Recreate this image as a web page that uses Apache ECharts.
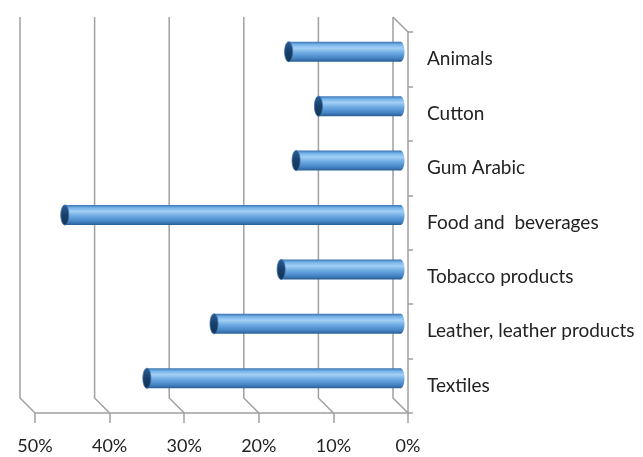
<!DOCTYPE html>
<html>
<head>
<meta charset="utf-8">
<script src="https://cdn.jsdelivr.net/npm/echarts@6/dist/echarts.min.js"></script>
<style>
html,body{margin:0;padding:0;background:#fff;}
#main{width:643px;height:457px;}
</style>
</head>
<body>
<div id="main"></div>
<script>
const categories = ['Animals', 'Cutton', 'Gum Arabic', 'Food and  beverages', 'Tobacco products', 'Leather, leather products', 'Textiles'];
const values = [15, 11, 14, 45, 16, 25, 34];
const xTicks = [0, 10, 20, 30, 40, 50];

const FONT = 'Lato';
const GRID_COLOR = '#a0a0a0';
const DEPTH = 15;

const chart = echarts.init(document.getElementById('main'), null, {renderer: 'canvas'});

const bodyGrad = () => new echarts.graphic.LinearGradient(0, 0, 0, 1, [
  {offset: 0, color: '#3b74b0'},
  {offset: 0.14, color: '#74b2ea'},
  {offset: 0.32, color: '#a3d0f5'},
  {offset: 0.55, color: '#6eaae3'},
  {offset: 0.82, color: '#4585c6'},
  {offset: 1, color: '#2a5d93'}
]);
const capGrad = () => new echarts.graphic.LinearGradient(0, 0, 0, 1, [
  {offset: 0, color: '#2b5f95'},
  {offset: 0.5, color: '#173f6a'},
  {offset: 1, color: '#143559'}
]);

const option = {
  animation: false,
  backgroundColor: '#fff',
  grid: {left: 35, right: 235, top: 32, bottom: 44, containLabel: false},
  xAxis: {
    type: 'value',
    inverse: true,
    min: 0,
    max: 50,
    interval: 10,
    axisLine: {show: true, lineStyle: {color: GRID_COLOR, width: 1.5}},
    axisTick: {show: true, length: 10, lineStyle: {color: GRID_COLOR, width: 1.5}},
    splitLine: {show: false},
    axisLabel: {
      formatter: '{value}%',
      fontFamily: FONT,
      fontSize: 18,
      color: '#222',
      margin: 24
    }
  },
  yAxis: {
    type: 'category',
    data: categories,
    inverse: true,
    position: 'right',
    axisLine: {show: true, lineStyle: {color: GRID_COLOR, width: 1.5}},
    axisTick: {show: true, length: 5, lineStyle: {color: GRID_COLOR, width: 1.5}},
    splitLine: {show: false},
    axisLabel: {
      fontFamily: FONT,
      fontSize: 19,
      color: '#222',
      margin: 19
    }
  },
  series: [
    {
      type: 'custom',
      name: 'frame',
      z: 1,
      silent: true,
      data: xTicks.map(v => [v, 0]),
      encode: {x: 0, y: 1},
      renderItem: function (params, api) {
        const v = api.value(0);
        const x = api.coord([v, 0])[0];
        const cs = params.coordSys;
        const top = cs.y, bottom = cs.y + cs.height;
        const children = [{
          type: 'polyline',
          shape: {points: [[x - DEPTH, top - DEPTH], [x - DEPTH, bottom - DEPTH], [x, bottom]]},
          style: {stroke: GRID_COLOR, lineWidth: 1.5, fill: null}
        }];
        if (v === 0) {
          children.push({
            type: 'line',
            shape: {x1: x - DEPTH, y1: top - DEPTH, x2: x, y2: top},
            style: {stroke: GRID_COLOR, lineWidth: 1.5}
          });
        }
        return {type: 'group', children: children};
      }
    },
    {
      type: 'custom',
      name: 'share',
      z: 3,
      data: values.map((v, i) => [v, i]),
      encode: {x: 0, y: 1},
      renderItem: function (params, api) {
        const v = api.value(0), i = api.value(1);
        const p1 = api.coord([v, i]);
        const p0 = api.coord([0, i]);
        const d = DEPTH / 2;
        const h = 20;
        const cy = p1[1] - d;
        const xl = p1[0] - d;
        const xr = p0[0] - d;
        return {
          type: 'group',
          children: [
            {type: 'ellipse', shape: {cx: xr, cy: cy, rx: 4, ry: h / 2}, style: {fill: bodyGrad()}},
            {type: 'rect', shape: {x: xl, y: cy - h / 2, width: xr - xl, height: h}, style: {fill: bodyGrad()}},
            {type: 'ellipse', shape: {cx: xl, cy: cy, rx: 4, ry: h / 2}, style: {fill: capGrad(), stroke: '#3d6fa3', lineWidth: 0.8}}
          ]
        };
      }
    }
  ]
};
chart.setOption(option);
</script>
</body>
</html>
